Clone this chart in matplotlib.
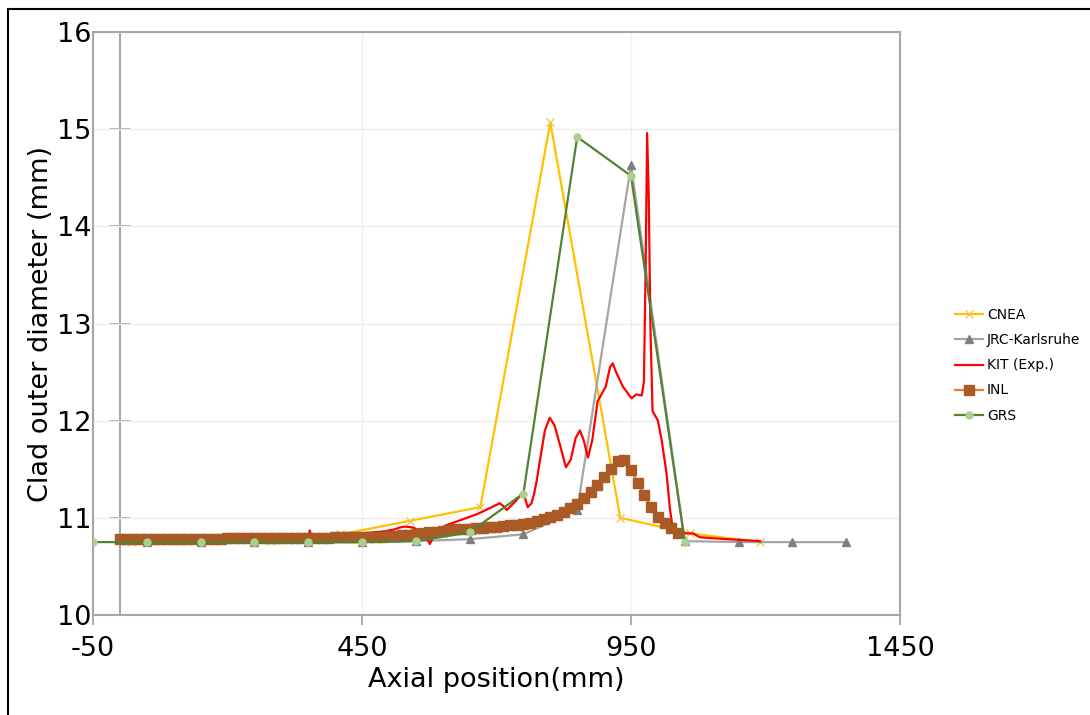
import matplotlib.pyplot as plt
from matplotlib.patches import Rectangle

# the reference uses a plain hyphen in "-50"
plt.rcParams['axes.unicode_minus'] = False

# series
cnea_x = [20, 150, 280, 410, 540, 670, 800, 930, 1060, 1190]
cnea_y = [10.75, 10.75, 10.76, 10.83, 10.97, 11.11, 15.07, 11.00, 10.84, 10.75]

jrc_x = [50, 150, 250, 350, 450, 550, 650, 750, 850, 950, 1050, 1150, 1250, 1350]
jrc_y = [10.75, 10.75, 10.75, 10.75, 10.75, 10.76, 10.78, 10.83, 11.08, 14.63,
         10.76, 10.75, 10.75, 10.75]

kit_x = [0, 20, 40, 60, 80, 100, 120, 140, 160, 180, 200, 220, 240, 260, 280,
         300, 320, 340, 350, 353, 356, 370, 390, 410, 430, 450, 470, 490, 510,
         520, 530, 545, 560, 570, 576, 582, 590, 605, 620, 635, 650, 665, 680,
         695, 706, 713, 719, 728, 737, 747, 752, 758, 765, 770, 775, 781, 790,
         799, 808, 818, 829, 838, 847, 855, 862, 870, 878, 888, 896, 903, 911,
         916, 923, 935, 951, 960, 970, 974, 977, 980, 983, 986, 990, 995, 1000,
         1007, 1016, 1022, 1026, 1035, 1046, 1065, 1078, 1102, 1130, 1160, 1190]
kit_y = [10.77, 10.77, 10.76, 10.77, 10.77, 10.76, 10.77, 10.76, 10.75, 10.76,
         10.77, 10.77, 10.76, 10.77, 10.76, 10.77, 10.77, 10.78, 10.79, 10.87,
         10.80, 10.80, 10.81, 10.82, 10.83, 10.84, 10.85, 10.86, 10.88, 10.90,
         10.91, 10.90, 10.86, 10.80, 10.73, 10.80, 10.87, 10.92, 10.95, 10.98,
         11.01, 11.04, 11.08, 11.12, 11.15, 11.12, 11.08, 11.13, 11.18, 11.25,
         11.22, 11.11, 11.15, 11.25, 11.39, 11.60, 11.90, 12.03, 11.95, 11.75,
         11.52, 11.60, 11.82, 11.90, 11.80, 11.62, 11.80, 12.20, 12.28, 12.35,
         12.55, 12.59, 12.49, 12.35, 12.23, 12.27, 12.26, 12.40, 13.50, 14.96,
         14.30, 13.00, 12.10, 12.05, 12.00, 11.80, 11.46, 11.11, 10.95, 10.87,
         10.84, 10.84, 10.80, 10.79, 10.78, 10.77, 10.76]

inl_x = [0, 12.5, 25, 37.5, 50, 62.5, 75, 87.5,
         100, 112.5, 125, 137.5, 150, 162.5, 175, 187.5,
         200, 212.5, 225, 237.5, 250, 262.5, 275, 287.5,
         300, 312.5, 325, 337.5, 350, 362.5, 375, 387.5,
         400, 412.5, 425, 437.5, 450, 462.5, 475, 487.5,
         500, 512.5, 525, 537.5, 550, 562.5, 575, 587.5,
         600, 612.5, 625, 637.5, 650, 662.5, 675, 687.5,
         700, 712.5, 725, 737.5, 750, 762.5, 775, 787.5,
         800, 812.5, 825, 837.5, 850, 862.5, 875, 887.5,
         900, 912.5, 925, 937.5, 950, 962.5, 975, 987.5,
         1000, 1012.5, 1025, 1037.5]
inl_y = [10.78, 10.78, 10.78, 10.78, 10.78, 10.78, 10.78, 10.78,
         10.78, 10.78, 10.78, 10.78, 10.78, 10.78, 10.78, 10.78,
         10.79, 10.79, 10.79, 10.79, 10.79, 10.79, 10.79, 10.79,
         10.79, 10.79, 10.79, 10.79, 10.79, 10.79, 10.79, 10.79,
         10.80, 10.80, 10.80, 10.80, 10.80, 10.80, 10.80, 10.80,
         10.81, 10.81, 10.82, 10.82, 10.83, 10.84, 10.85, 10.85,
         10.86, 10.87, 10.88, 10.88, 10.89, 10.90, 10.90, 10.91,
         10.91, 10.92, 10.93, 10.93, 10.94, 10.95, 10.97, 10.99,
         11.01, 11.03, 11.06, 11.10, 11.14, 11.20, 11.27, 11.34,
         11.42, 11.50, 11.58, 11.59, 11.49, 11.36, 11.23, 11.11,
         11.01, 10.95, 10.90, 10.84]

grs_x = [-50, 50, 150, 250, 350, 450, 550, 650, 750, 850, 950, 1050]
grs_y = [10.75, 10.75, 10.75, 10.75, 10.75, 10.75, 10.76, 10.85, 11.25, 14.92,
         14.52, 10.75]

x_ticks = [-50, 450, 950, 1450]
y_ticks = [10, 11, 12, 13, 14, 15, 16]

axis_grey = '#A6A6A6'

fig = plt.figure(figsize=(10.9, 7.15), dpi=100)
ax = fig.add_axes([0.0853, 0.1399, 0.7404, 0.8153])

# light grid plus the y axis that Excel draws at x = 0
ax.grid(True, color='#EFEFEF', linewidth=1.0, zorder=0)
ax.axvline(0, color=axis_grey, linewidth=1.5, zorder=1)
ax.plot([0] * len(y_ticks), y_ticks, linestyle='none', marker='_',
        markersize=14, markeredgewidth=1.3, color=axis_grey, zorder=1)

ax.plot(cnea_x, cnea_y, color='#FFC000', linewidth=1.6, marker='x',
        markersize=6, markeredgewidth=1.0, markeredgecolor='#F2C45A',
        label='CNEA', zorder=3)
ax.plot(jrc_x, jrc_y, color='#A5A5A5', linewidth=1.6, marker='^',
        markersize=6, markerfacecolor='#7F7F7F', markeredgecolor='#7F7F7F',
        label='JRC-Karlsruhe', zorder=3)
ax.plot(kit_x, kit_y, color='#FF0000', linewidth=1.6, label='KIT (Exp.)',
        zorder=4)
ax.plot(inl_x, inl_y, color='#ED7D31', linewidth=1.6, marker='s',
        markersize=6.5, markerfacecolor='#A95A25', markeredgecolor='#A95A25',
        label='INL', zorder=5)
ax.plot(grs_x, grs_y, color='#548235', linewidth=1.6, marker='o',
        markersize=5, markerfacecolor='#A9D18E', markeredgecolor='#A9D18E',
        label='GRS', zorder=6)

ax.set_xlim(-50, 1450)
ax.set_ylim(10, 16)
ax.set_xticks(x_ticks)
ax.set_yticks(y_ticks)

for side in ['left', 'right', 'top', 'bottom']:
    ax.spines[side].set_color(axis_grey)
    ax.spines[side].set_linewidth(1.5)

ax.tick_params(axis='x', direction='out', length=7, width=1.3,
               color=axis_grey, labelsize=19.5, pad=8)
ax.tick_params(axis='y', length=0, labelsize=19.5, pad=1)

ax.set_xlabel('Axial position(mm)', fontsize=19.5, labelpad=4)
ax.set_ylabel('Clad outer diameter (mm)', fontsize=19.5, labelpad=2)

ax.legend(loc='center left', bbox_to_anchor=(0.876, 0.489),
          bbox_transform=fig.transFigure, frameon=False, fontsize=10,
          handlelength=2.0, handletextpad=0.3, labelspacing=0.8,
          borderpad=0, borderaxespad=0)

# black frame round the picture, as in the screenshot
fig.patches.append(Rectangle((0.0073, -0.1), 1.2, 1.0874, fill=False,
                             edgecolor='black', linewidth=1.5,
                             transform=fig.transFigure, figure=fig))

fig.savefig('out.png', dpi=100)
